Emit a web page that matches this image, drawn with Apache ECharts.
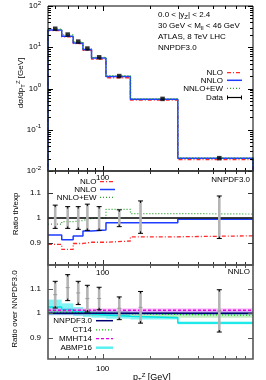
<!DOCTYPE html>
<html><head><meta charset="utf-8">
<script src="https://cdn.jsdelivr.net/npm/echarts@6/dist/echarts.min.js"></script>
<style>html,body{margin:0;padding:0;background:#fff}#c{width:266px;height:380px}</style>
</head><body><div id="c"></div>
<script>
// ---------------- data ----------------
const binEdges = [45, 55, 65, 75, 85, 105, 150, 300, 900];
const dataX    = [50, 60, 70, 80, 95, 127.5, 240, 550];
const ratioX   = [50, 60, 70, 80, 95, 127.5, 174, 550];
const dataXsec = [28.1, 20.3, 13.7, 9.3, 5.7, 2.0, 0.56, 0.0205];
const nloXsec  = [25.3, 17.8, 12.3, 8.4, 5.15, 1.82, 0.52, 0.019];
const nnloXsec = [26.3, 18.5, 12.7, 8.8, 5.45, 1.96, 0.55, 0.0204];
const ewXsec   = [27.5, 20.0, 13.6, 9.2, 5.7, 2.06, 0.57, 0.0209];
// ratio theory / experiment
const nloRatio  = [0.893, 0.873, 0.897, 0.902, 0.902, 0.907, 0.924, 0.928];
const nnloRatio = [0.931, 0.912, 0.927, 0.947, 0.951, 0.981, 0.981, 0.995];
const ewRatio   = [0.975, 0.985, 0.990, 0.998, 1.000, 1.035, 1.018, 1.016];
const expLoMid  = [0.958, 0.958, 0.954, 0.950, 0.950, 0.965, 0.938, 0.917];
const expHiMid  = [1.052, 1.046, 1.046, 1.056, 1.046, 1.033, 1.069, 1.089];
// ratio over NNPDF3.0 (NNLO)
const expLoBot  = [1.021, 1.051, 1.035, 1.005, 1.014, 0.974, 0.960, 0.924];
const expHiBot  = [1.129, 1.156, 1.129, 1.113, 1.105, 1.066, 1.088, 1.095];
const nnpdfC    = [1, 1, 1, 1, 1, 1, 1, 1];
const nnpdfLo   = [0.992, 0.992, 0.992, 0.992, 0.992, 0.992, 0.993, 0.993];
const nnpdfHi   = [1.008, 1.008, 1.008, 1.008, 1.008, 1.008, 1.007, 1.007];
const ct14C     = [1.003, 1.003, 1.002, 1.001, 1.000, 0.998, 0.995, 0.992];
const ct14Lo    = [0.993, 0.993, 0.992, 0.991, 0.990, 0.988, 0.985, 0.982];
const ct14Hi    = [1.013, 1.013, 1.012, 1.011, 1.010, 1.008, 1.005, 1.002];
const mmhtC     = [1.012, 1.012, 1.012, 1.012, 1.012, 1.012, 1.012, 1.012];
const mmhtLo    = [1.004, 1.004, 1.004, 1.004, 1.004, 1.004, 1.004, 1.004];
const mmhtHi    = [1.020, 1.020, 1.020, 1.020, 1.020, 1.020, 1.020, 1.020];
const abmpC     = [1.025, 1.015, 1.005, 0.998, 0.993, 0.988, 0.982, 0.961];
const abmpLo    = [0.995, 0.995, 0.990, 0.985, 0.982, 0.978, 0.975, 0.955];
const abmpHi    = [1.055, 1.040, 1.025, 1.012, 1.005, 0.998, 0.988, 0.967];
const xTicks    = [50, 60, 70, 80, 90, 100, 200, 300, 400, 500, 600, 700, 800];
const xLabels   = [100];
const ratioTicks = [0.9, 1.0, 1.1];
const yLogMajor = [0.01, 0.1, 1, 10, 100];
const yLogMinor = [0.02,0.03,0.04,0.05,0.06,0.07,0.08,0.09,0.2,0.3,0.4,0.5,0.6,0.7,0.8,0.9,2,3,4,5,6,7,8,9,20,30,40,50,60,70,80,90];

// ---------------- helpers ----------------
const FONT = 'Liberation Sans';
function steps(vals, withFloor) {
  const d = binEdges.map((e, i) => [e, vals[Math.min(i, vals.length - 1)]]);
  if (withFloor) { d.unshift([binEdges[0], 1e-3]); d.push([binEdges[binEdges.length - 1], 1e-3]); }
  return d;
}
function bandData(lo, hi) {
  return lo.map((l, i) => [binEdges[i], l, binEdges[i + 1], hi[i]]);
}
function stepLine(name, g, vals, color, type, width, withFloor, z) {
  return { name, type: 'line', xAxisIndex: g, yAxisIndex: g, data: steps(vals, withFloor), step: 'end',
    symbol: 'none', silent: true, clip: true, z: z || 3,
    lineStyle: { color, width: width || 1.3, type: type || 'solid' } };
}
function bandSeries(g, lo, hi, color, z) {
  return { type: 'custom', xAxisIndex: g, yAxisIndex: g, silent: true, clip: true, z: z || 2,
    data: bandData(lo, hi),
    renderItem(params, api) {
      const p0 = api.coord([api.value(0), api.value(1)]);
      const p1 = api.coord([api.value(2), api.value(3)]);
      return { type: 'rect', shape: { x: p0[0], y: p1[1], width: p1[0] - p0[0], height: p0[1] - p1[1] },
        style: { fill: color } };
    } };
}
function errSeries(g, xs, lo, hi, centerMark) {
  return { type: 'custom', xAxisIndex: g, yAxisIndex: g, silent: true, z: 6,
    data: xs.map((x, i) => [x, lo[i], hi[i]]),
    renderItem(params, api) {
      const a = api.coord([api.value(0), api.value(1)]);
      const b = api.coord([api.value(0), api.value(2)]);
      const x = a[0];
      const ch = [
        { type: 'line', shape: { x1: x, y1: a[1], x2: x, y2: b[1] }, style: { stroke: '#b4b4b4', lineWidth: 2.6 } },
        { type: 'line', shape: { x1: x - 2.5, y1: a[1], x2: x + 2.5, y2: a[1] }, style: { stroke: '#000', lineWidth: 1 } },
        { type: 'line', shape: { x1: x - 2.5, y1: b[1], x2: x + 2.5, y2: b[1] }, style: { stroke: '#000', lineWidth: 1 } },
        { type: 'line', shape: { x1: x, y1: a[1], x2: x, y2: a[1] - 2 }, style: { stroke: '#000', lineWidth: 1 } },
        { type: 'line', shape: { x1: x, y1: b[1], x2: x, y2: b[1] + 2 }, style: { stroke: '#000', lineWidth: 1 } }
      ];
      if (centerMark) {
        const m = (a[1] + b[1]) / 2;
        ch.push({ type: 'line', shape: { x1: x - 2, y1: m, x2: x + 2, y2: m }, style: { stroke: '#999', lineWidth: 1 } });
      }
      return { type: 'group', children: ch };
    } };
}
function tickSeries(g, yRef, yMajor, yMinor, color) {
  const d = [];
  xTicks.forEach(v => d.push([v, yRef, 0, v === 100 ? 1 : 0]));
  yMajor.forEach(v => d.push([100, v, 1, 1]));
  (yMinor || []).forEach(v => d.push([100, v, 1, 0]));
  return { type: 'custom', xAxisIndex: g, yAxisIndex: g, silent: true, clip: false, z: 8, data: d,
    renderItem(params, api) {
      const cs = params.coordSys;
      const kind = api.value(2), major = api.value(3);
      const L = major ? 5 : 3;
      const st = { stroke: color, lineWidth: 1 };
      if (kind === 0) {
        const x = Math.round(api.coord([api.value(0), api.value(1)])[0]) + 0.5;
        return { type: 'group', children: [
          { type: 'line', shape: { x1: x, y1: cs.y, x2: x, y2: cs.y + L }, style: st },
          { type: 'line', shape: { x1: x, y1: cs.y + cs.height, x2: x, y2: cs.y + cs.height - L }, style: st } ] };
      }
      const y = Math.round(api.coord([api.value(0), api.value(1)])[1]) + 0.5;
      return { type: 'group', children: [
        { type: 'line', shape: { x1: cs.x, y1: y, x2: cs.x + L, y2: y }, style: st },
        { type: 'line', shape: { x1: cs.x + cs.width, y1: y, x2: cs.x + cs.width - L, y2: y }, style: st } ] };
    } };
}
const lblStyle = { fontFamily: FONT, fontSize: 8, color: '#000' };
function xAx(g, margin) {
  return { type: 'log', logBase: 10, min: 45, max: 900, gridIndex: g,
    axisLine: { show: false }, axisTick: { show: false }, splitLine: { show: false },
    axisLabel: Object.assign({ customValues: xLabels, margin, formatter: v => String(Math.round(v)) }, lblStyle) };
}
function ratioY(g, min, max) {
  return { type: 'value', min, max, gridIndex: g, axisLine: { show: false }, axisTick: { show: false },
    splitLine: { show: false },
    axisLabel: Object.assign({ customValues: ratioTicks, margin: 7, formatter: v => String(+v.toFixed(2)) }, lblStyle) };
}
function txt(x, y, text, opt) {
  return Object.assign({ type: 'text', x, y, silent: true, z: 20,
    style: Object.assign({ text, fontFamily: FONT, fontSize: 8, fill: '#000', align: 'left', verticalAlign: 'middle' }, (opt || {}).style || {}) },
    (opt || {}).el || {});
}
function key(x1, x2, y, stroke, dash, w) {
  return { type: 'line', silent: true, z: 20, shape: { x1, y1: y, x2, y2: y },
    style: { stroke, lineWidth: w || 1.3, lineDash: dash || null } };
}
const DASHDOT = [4, 2, 1, 2], DOT = [1, 2], DASH = [3, 2];

// ---------------- chart ----------------
const chart = echarts.init(document.getElementById('c'), null, { renderer: 'canvas' });
const option = {
  animation: false,
  backgroundColor: '#fff',
  grid: [
    { left: 48, top: 4, width: 205, height: 167, show: true, borderColor: '#000', borderWidth: 1, backgroundColor: 'transparent', z: 10 },
    { left: 48, top: 171, width: 205, height: 94, show: true, borderColor: '#333', borderWidth: 1.6, backgroundColor: 'transparent', z: 10 },
    { left: 48, top: 265, width: 205, height: 94, show: true, borderColor: '#555', borderWidth: 1.6, backgroundColor: 'transparent', z: 10 }
  ],
  xAxis: [xAx(0, 3), xAx(1, 4), xAx(2, 6)],
  yAxis: [
    { type: 'log', logBase: 10, min: 0.01, max: 100, gridIndex: 0, axisLine: { show: false }, axisTick: { show: false },
      splitLine: { show: false },
      axisLabel: Object.assign({ margin: 7,
        formatter: v => '10{s|' + Math.round(Math.log10(v)) + '}',
        rich: { s: { fontFamily: FONT, fontSize: 6, padding: [0, 0, 6, 0], color: '#000' } } }, lblStyle) },
    ratioY(1, 0.81, 1.19),
    ratioY(2, 0.815, 1.195)
  ],
  series: [
    // top panel
    stepLine('NLO', 0, nloXsec, '#ff2a2a', DASHDOT, 1.3, true, 3),
    stepLine('NNLO', 0, nnloXsec, '#1f3dff', 'solid', 1.5, true, 4),
    stepLine('NNLO+EW', 0, ewXsec, '#2aa02a', DOT, 1.2, true, 5),
    { type: 'scatter', xAxisIndex: 0, yAxisIndex: 0, symbol: 'rect', symbolSize: 4.5, silent: true, z: 7,
      itemStyle: { color: '#000' }, data: dataX.map((x, i) => [x, dataXsec[i]]) },
    tickSeries(0, 1, yLogMajor, yLogMinor, '#000'),
    // middle panel
    stepLine('NLO r', 1, nloRatio, '#ff2a2a', DASHDOT, 1.3, false, 3),
    stepLine('NNLO r', 1, nnloRatio, '#1f3dff', 'solid', 1.5, false, 4),
    stepLine('NNLO+EW r', 1, ewRatio, '#2aa02a', DOT, 1.2, false, 5),
    stepLine('Data r', 1, [1, 1, 1, 1, 1, 1, 1, 1], '#000', 'solid', 1.5, false, 5),
    errSeries(1, ratioX, expLoMid, expHiMid, false),
    tickSeries(1, 1, ratioTicks, null, '#333'),
    // bottom panel
    bandSeries(2, abmpLo, abmpHi, 'rgba(90,240,240,0.75)', 1),
    bandSeries(2, mmhtLo, mmhtHi, 'rgba(240,120,240,0.45)', 2),
    bandSeries(2, ct14Lo, ct14Hi, 'rgba(120,220,120,0.45)', 2),
    bandSeries(2, nnpdfLo, nnpdfHi, 'rgba(90,110,240,0.45)', 2),
    stepLine('ABMP16', 2, abmpC, '#00e5e5', 'solid', 1.5, false, 3),
    stepLine('MMHT14', 2, mmhtC, '#e600e6', DASH, 1.3, false, 4),
    stepLine('CT14', 2, ct14C, '#00c800', DOT, 1.3, false, 4),
    stepLine('NNPDF3.0', 2, nnpdfC, '#000070', 'solid', 1.5, false, 5),
    errSeries(2, ratioX, expLoBot, expHiBot, true),
    tickSeries(2, 1, ratioTicks, null, '#555')
  ],
  graphic: [
    // axis titles
    txt(21, 83, '', { el: { rotation: Math.PI / 2 }, style: { text: 'dσ/dp{sub|T}{sup|Z} [GeV]', align: 'center',
      rich: { sub: { fontSize: 6, padding: [5, 0, 0, 0] }, sup: { fontSize: 6, padding: [0, 0, 6, 0] } } } }),
    txt(16, 214, 'Ratio th/exp', { el: { rotation: Math.PI / 2 }, style: { align: 'center' } }),
    txt(15, 309, 'Ratio over NNPDF3.0', { el: { rotation: Math.PI / 2 }, style: { align: 'center' } }),
    txt(133, 378, '', { style: { text: 'p{sub|T}{sup|Z} [GeV]', fontSize: 9,
      rich: { sub: { fontSize: 6, padding: [5, 0, 0, 0] }, sup: { fontSize: 6, padding: [0, 0, 6, 0] } } } }),
    // top annotations
    txt(158, 15, '', { style: { text: '0.0 < |y{sub|Z}| < 2.4', rich: { sub: { fontSize: 6, padding: [4, 0, 0, 0] } } } }),
    txt(158, 26, '', { style: { text: '30 GeV < M{sub|ll} < 46 GeV', rich: { sub: { fontSize: 6, padding: [4, 0, 0, 0] } } } }),
    txt(158, 37, 'ATLAS, 8 TeV LHC'),
    txt(158, 47.5, 'NNPDF3.0'),
    // top legend
    txt(223, 72.7, 'NLO', { style: { align: 'right' } }), key(227, 242, 72.7, '#ff2a2a', DASHDOT),
    txt(223, 80.3, 'NNLO', { style: { align: 'right' } }), key(227, 242, 80.3, '#1f3dff', null, 1.5),
    txt(223, 88.3, 'NNLO+EW', { style: { align: 'right' } }), key(227, 242, 88.3, '#2aa02a', DOT, 1.2),
    txt(223, 97.5, 'Data', { style: { align: 'right' } }), key(227, 242, 97.5, '#000', null, 1.2),
    { type: 'line', silent: true, z: 20, shape: { x1: 227.5, y1: 95.5, x2: 227.5, y2: 99.5 }, style: { stroke: '#000', lineWidth: 1 } },
    { type: 'line', silent: true, z: 20, shape: { x1: 241.5, y1: 95.5, x2: 241.5, y2: 99.5 }, style: { stroke: '#000', lineWidth: 1 } },
    // middle legend and label
    txt(250, 179.5, 'NNPDF3.0', { style: { align: 'right' } }),
    txt(96.5, 181.7, 'NLO', { style: { align: 'right' } }), key(100, 115, 181.7, '#ff2a2a', DASHDOT),
    txt(96.5, 189.5, 'NNLO', { style: { align: 'right' } }), key(100, 115, 189.5, '#1f3dff', null, 1.5),
    txt(96.5, 197.3, 'NNLO+EW', { style: { align: 'right' } }), key(100, 115, 197.3, '#2aa02a', DOT, 1.2),
    // bottom legend and label
    txt(250, 272, 'NNLO', { style: { align: 'right' } }),
    txt(92, 320.7, 'NNPDF3.0', { style: { align: 'right' } }), key(96, 113, 320.7, '#000070', null, 1.5),
    txt(92, 329.8, 'CT14', { style: { align: 'right' } }), key(96, 113, 329.8, '#00c800', DOT, 1.3),
    txt(92, 338.7, 'MMHT14', { style: { align: 'right' } }), key(96, 113, 338.7, '#e600e6', DASH, 1.3),
    txt(92, 347.7, 'ABMP16', { style: { align: 'right' } }), key(96, 113, 347.7, '#5af0f0', null, 2.5)
  ]
};
chart.setOption(option);
</script></body></html>
